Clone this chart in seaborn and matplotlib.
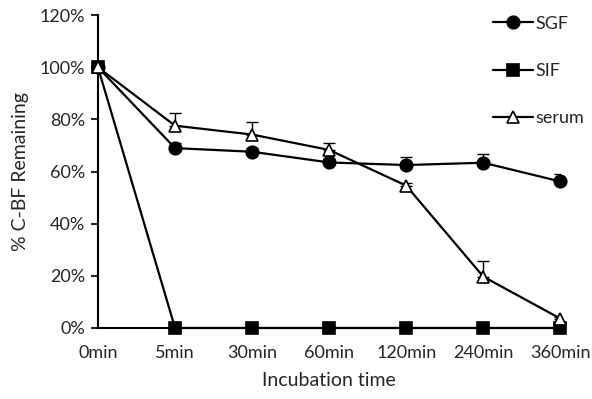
import seaborn as sns
import pandas as pd
import matplotlib.pyplot as plt
from matplotlib.ticker import PercentFormatter

times = ['0min', '5min', '30min', '60min', '120min', '240min', '360min']
sgf = [100, 69, 67.6, 63.5, 62.5, 63.4, 56.2]
sgf_err = [0, 2, 1.5, 1.5, 3, 3.5, 3]
sif = [100, 0, 0, 0, 0, 0, 0]
sif_err = [0, 0, 0, 0, 0, 0, 0]
serum = [100, 77.6, 74.2, 68.3, 54.6, 19.7, 3.6]
serum_err = [0, 5, 4.8, 2.8, 1, 6, 0.5]

sns.set_style('white')
plt.rcParams['font.family'] = ['Lato', 'DejaVu Sans']

fig = plt.figure(figsize=(5.92, 3.99), dpi=100)
ax = fig.add_axes([0.1655, 0.178, 0.781, 0.784])

pos = list(range(len(times)))
series = [('SGF', sgf, sgf_err, 'o', 'black', 9),
          ('SIF', sif, sif_err, 's', 'black', 8.5),
          ('serum', serum, serum_err, '^', 'white', 8.5)]

for name, vals, err, mk, fc, ms in series:
    # error bars, upper only
    ax.errorbar(pos, vals, yerr=[[0] * len(err), err], fmt='none',
                ecolor='black', elinewidth=1, capsize=4, capthick=1, zorder=2)
    df = pd.DataFrame({'t': pos, 'v': vals})
    sns.lineplot(data=df, x='t', y='v', ax=ax, color='black', linewidth=1.6,
                 marker=mk, markersize=ms, markerfacecolor=fc,
                 markeredgecolor='black', markeredgewidth=1.2,
                 label=name, zorder=3, clip_on=False)

ax.set_xlim(0, 6)
ax.set_ylim(0, 120)
ax.set_yticks(range(0, 121, 20))
ax.yaxis.set_major_formatter(PercentFormatter(decimals=0))
ax.set_xticks(pos)
ax.set_xticklabels(times)

for s in ['top', 'right']:
    ax.spines[s].set_visible(False)
for s in ['left', 'bottom']:
    ax.spines[s].set_color('black')
    ax.spines[s].set_linewidth(1.5)

ax.tick_params(axis='y', left=True, length=5, width=1.5, labelsize=13, pad=4)
ax.tick_params(axis='x', bottom=False, labelsize=13, pad=9)

ax.set_xlabel('Incubation time', fontsize=14, labelpad=8)
ax.set_ylabel('% C-BF Remaining', fontsize=14, labelpad=8)

ax.legend(loc='upper left', bbox_to_anchor=(0.82, 1.05), frameon=False,
          fontsize=13, labelspacing=1.72, handlelength=2.2, handletextpad=0.15)

fig.savefig('out.png', dpi=100)
